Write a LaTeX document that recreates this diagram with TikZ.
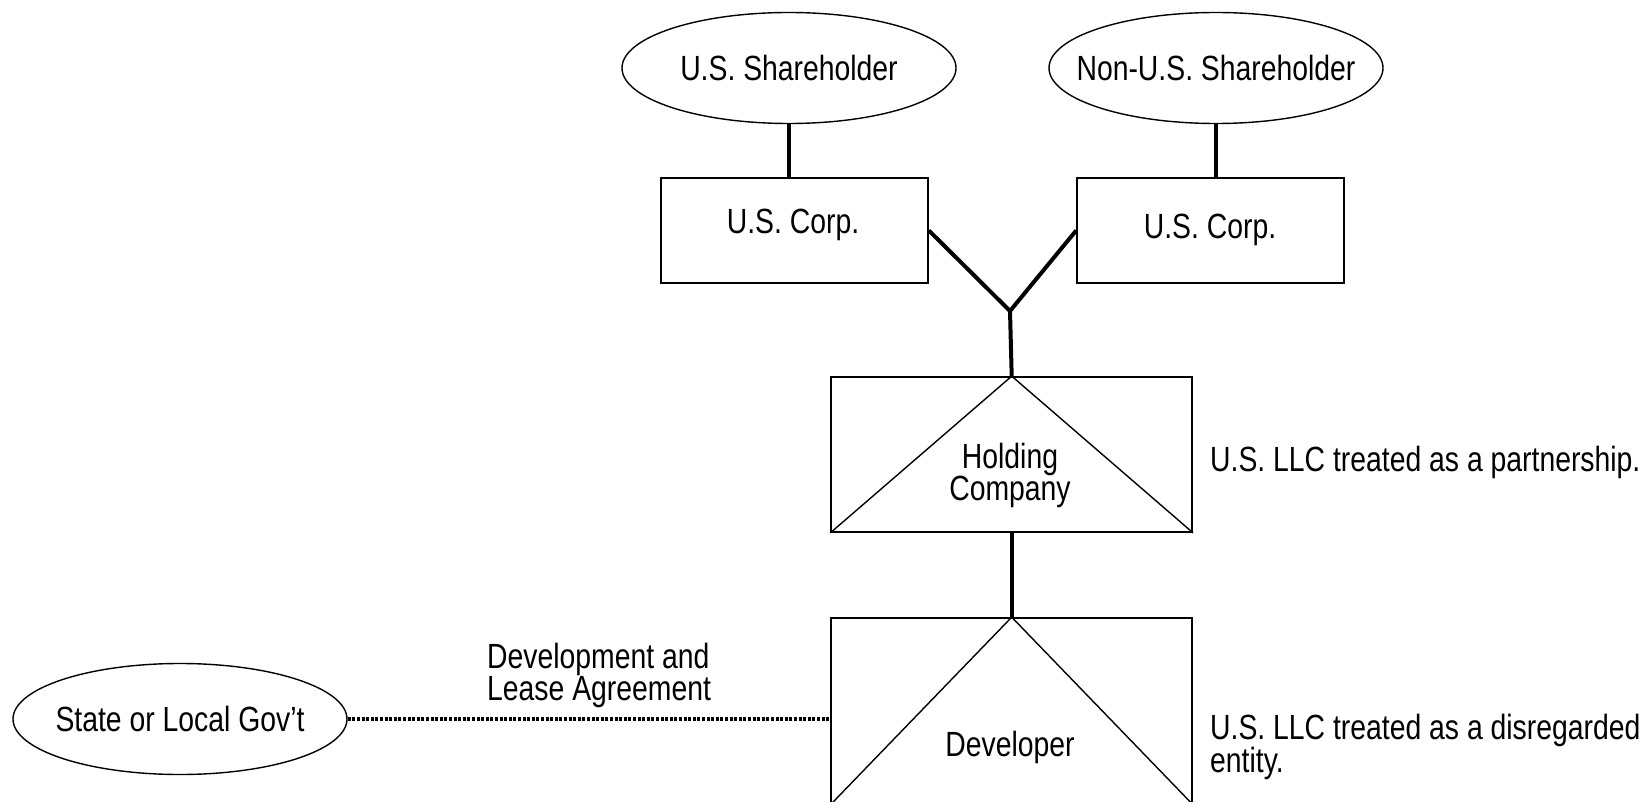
\documentclass[tikz,border=0pt]{standalone}
\usepackage{fontspec}
\setmainfont[FakeStretch=0.81]{Liberation Sans}
\usetikzlibrary{shapes.geometric}

\begin{document}
\begin{tikzpicture}[x=1pt,y=-1pt,font=\fontsize{35}{32}\selectfont]
        \tikzstyle{owner} = [draw,ellipse,line width=1.4pt,minimum width=334pt,minimum height=111pt,inner sep=0pt]
        \tikzstyle{corp} = [draw,rectangle,line width=1.7pt,minimum width=267pt,minimum height=105pt]
        \tikzstyle{llc} = [draw,rectangle,line width=1.7pt,minimum width=361pt]
        \tikzstyle{link} = [line width=4pt]
        \tikzstyle{roof} = [line width=1.4pt]
        \tikzstyle{txt} = [inner sep=0pt]
        \useasboundingbox (0,0) rectangle (1643,802);
        \clip (0,0) rectangle (1643,802);

        \foreach \l/\x/\y/\t in {ussh/789/68/U.S. Shareholder, nonussh/1216/68/Non-U.S. Shareholder,
          gov/180/719/State or Local Gov't} {
          \node[owner,label={[txt]center:\t}] (\l) at (\x,\y) {};
        }
        \node[corp] (corpa) at (794.5,230.5) {};
        \node[corp] (corpb) at (1210.5,230.5) {};
        \node[llc,minimum height=155pt] (hold) at (1011.7,454.5) {};
        \node[llc,minimum height=186pt] (dev) at (1011.7,711) {};

        \node[txt,anchor=base] (corpatxt) at (793,234) {U.S. Corp.};
        \node[txt,anchor=base] (corpbtxt) at (1210,239) {U.S. Corp.};
        \node[txt,align=center] (holdtxt) at (1010,475) {Holding\\Company};
        \node[txt,anchor=base] (devtxt) at (1010,756) {Developer};
        \node[txt,anchor=base west] (holdnote) at (1210,471) {U.S. LLC treated as a partnership.};
        \node[txt,anchor=west,align=left] (devnote) at (1210,747) {U.S. LLC treated as a disregarded\\entity.};
        \node[txt,anchor=west,align=left] (lease) at (487,675) {Development and\\Lease Agreement};

        \coordinate (vtx) at (1010,311);
        \draw[link] (ussh.south) -- (ussh.south |- corpa.north);
        \draw[link] (nonussh.south) -- (nonussh.south |- corpb.north);
        \draw[link] (corpa.east) -- (vtx) -- (corpb.west);
        \draw[link] (vtx) -- (hold.north);
        \draw[link] (hold.south) -- (dev.north);

        \foreach \b in {hold, dev} {
          \draw[roof] (\b.south west) -- (\b.north) -- (\b.south east);
        }
        \draw[line width=3.5pt,dash pattern=on 3pt off 1.6pt] (gov.east) -- (gov.east -| dev.west);
\end{tikzpicture}
\end{document}
